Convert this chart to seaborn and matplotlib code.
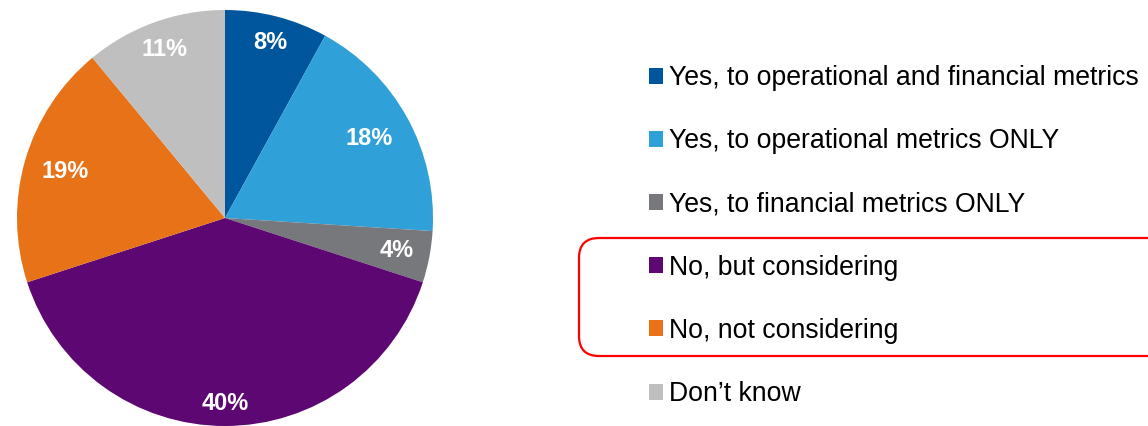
import matplotlib
matplotlib.use("Agg")
import matplotlib.pyplot as plt
from matplotlib.patches import Patch, FancyBboxPatch
import seaborn as sns

categories = [
    "Yes, to operational and financial metrics",
    "Yes, to operational metrics ONLY",
    "Yes, to financial metrics ONLY",
    "No, but considering",
    "No, not considering",
    "Don\u2019t know",
]
shares = [8, 18, 4, 40, 19, 11]
colors = ["#00569C", "#2FA0D8", "#77787B", "#5C0772", "#E87217", "#BFBFBF"]

sns.set_theme(style="white")
plt.rcParams["font.family"] = ["Liberation Sans", "DejaVu Sans"]

fig = plt.figure(figsize=(11.48, 4.26), dpi=100)
ax = fig.add_axes([17 / 1148, 0, 416 / 1148, 416 / 426])

wedges, texts, autotexts = ax.pie(
    shares,
    colors=colors,
    startangle=90,
    counterclock=False,
    autopct=lambda p: f"{p:.0f}%",
    pctdistance=0.84,
    wedgeprops=dict(linewidth=0),
    textprops=dict(color="white", fontsize=17, fontweight="bold"),
)
# nudge labels radially to sit nicely within each slice
label_radii = [0.87, 0.79, 0.84, 0.89, 0.80, 0.86]
for t, r in zip(autotexts, label_radii):
    x, y = t.get_position()
    s = r / 0.84
    t.set_position((x * s, y * s))
ax.set_xlim(-1, 1)
ax.set_ylim(-1, 1)
ax.set_aspect("equal")
ax.axis("off")

handles = [Patch(facecolor=c, edgecolor="none") for c in colors]
fig.legend(
    handles,
    categories,
    loc="upper left",
    bbox_to_anchor=(649 / 1148, 1 - 65 / 426),
    frameon=False,
    fontsize=19.2,
    labelcolor="black",
    handlelength=0.54,
    handleheight=0.54,
    handletextpad=0.22,
    labelspacing=1.395,
    borderpad=0,
    borderaxespad=0,
)

box = FancyBboxPatch(
    (5.79, 0.70), 6.2, 1.18,
    boxstyle="round,pad=0,rounding_size=0.2",
    transform=fig.dpi_scale_trans,
    facecolor="none", edgecolor="#FF0000", linewidth=1.6,
)
fig.patches.append(box)

fig.savefig("out.png", dpi=100)
